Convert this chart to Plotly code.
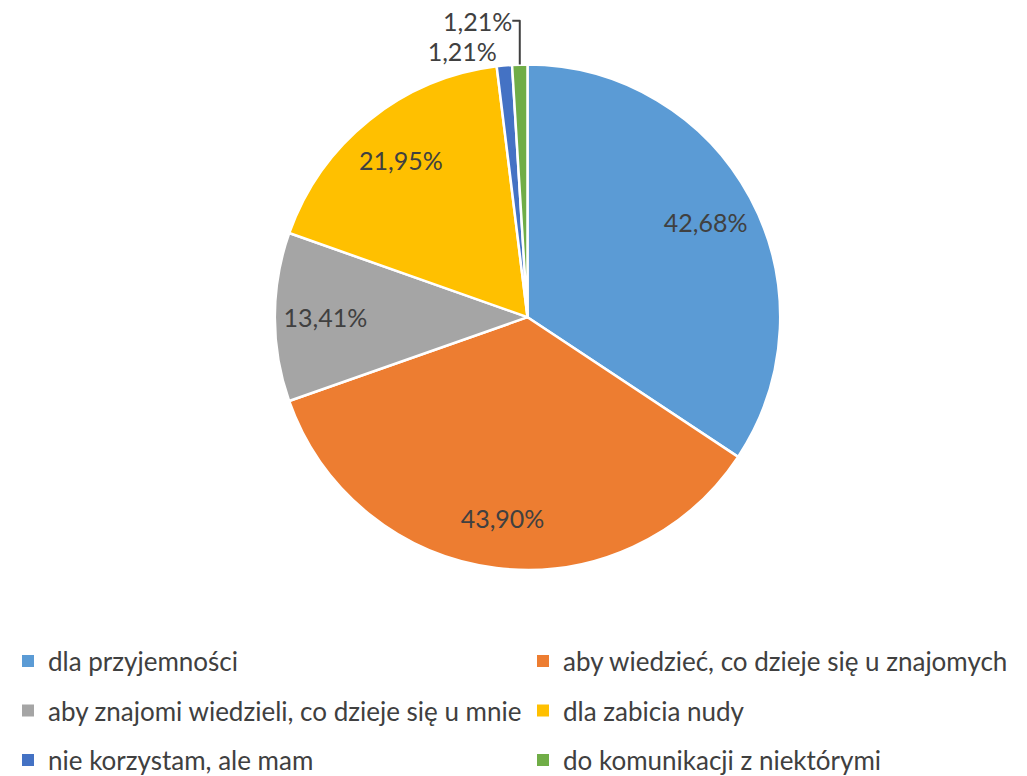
import plotly.graph_objects as go

categories = [
    "dla przyjemności",
    "aby wiedzieć, co dzieje się u znajomych",
    "aby znajomi wiedzieli, co dzieje się u mnie",
    "dla zabicia nudy",
    "nie korzystam, ale mam",
    "do komunikacji z niektórymi",
]
values = [42.68, 43.90, 13.41, 21.95, 1.21, 1.21]
value_labels = ["42,68%", "43,90%", "13,41%", "21,95%", "1,21%", "1,21%"]
colors = ["#5B9BD5", "#ED7D31", "#A5A5A5", "#FFC000", "#4472C4", "#70AD47"]
text_positions = ["inside", "inside", "inside", "inside", "outside", "outside"]

FONT = "Lato"
TXT = "#404040"
W, H = 1027, 776

# pie placement (pixels)
cx, cy, half = 519.5, 312, 255
dom = dict(x=[(cx - half) / W, (cx + half) / W],
           y=[(H - cy - half) / H, (H - cy + half) / H])

fig = go.Figure()
# coloured slices
fig.add_trace(go.Pie(
    values=values, labels=categories,
    textinfo="none",
    marker=dict(colors=colors, line=dict(color="white", width=2.5)),
    sort=False, direction="clockwise", rotation=0,
    showlegend=False, automargin=False, domain=dom,
    hoverinfo="label+text", text=value_labels,
))
# transparent ring carrying the value labels (places them toward the rim)
fig.add_trace(go.Pie(
    values=values, labels=categories,
    text=value_labels, texttemplate="%{text}",
    textposition=text_positions,
    insidetextorientation="horizontal",
    textfont=dict(family=FONT, size=25, color=TXT),
    outsidetextfont=dict(family=FONT, size=25, color=TXT),
    hole=0.6,
    marker=dict(colors=["rgba(0,0,0,0)"] * len(values), line=dict(width=0)),
    sort=False, direction="clockwise", rotation=0,
    showlegend=False, automargin=False, domain=dom,
    hoverinfo="skip",
))

# legend entries (three rows of two columns)
legend_names = ["legend", "legend", "legend2", "legend2", "legend3", "legend3"]
for name, color, lg in zip(categories, colors, legend_names):
    fig.add_trace(go.Scatter(
        x=[None], y=[None], mode="markers", name=name,
        marker=dict(symbol="square", size=9, color=color),
        legend=lg, showlegend=True, hoverinfo="skip",
    ))

row_y = [659, 709, 759]
leg_common = dict(orientation="h", entrywidth=470, entrywidthmode="pixels",
                  font=dict(family=FONT, size=26, color=TXT),
                  bgcolor="rgba(0,0,0,0)", xanchor="left", yanchor="middle",
                  itemsizing="constant", x=0.0, tracegroupgap=0)
fig.update_layout(
    width=W, height=H,
    margin=dict(l=0, r=0, t=0, b=0),
    paper_bgcolor="white", plot_bgcolor="white",
    xaxis=dict(visible=False), yaxis=dict(visible=False),
    legend=dict(**leg_common, y=1 - row_y[0] / H),
    legend2=dict(**leg_common, y=1 - row_y[1] / H),
    legend3=dict(**leg_common, y=1 - row_y[2] / H),
)

fig.write_html("out.html")
